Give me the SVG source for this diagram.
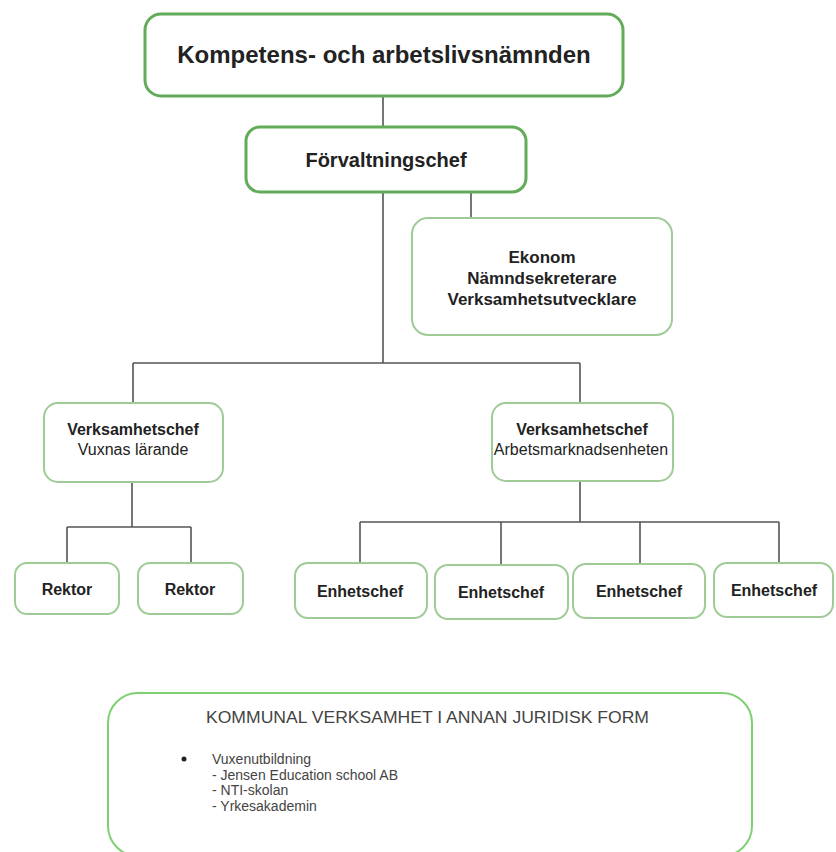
<svg xmlns="http://www.w3.org/2000/svg" width="836" height="852" viewBox="0 0 836 852">
<style>
.main{fill:#fff;stroke:#62ab58;stroke-width:3}
.box{fill:#fff;stroke:#9fcb96;stroke-width:2}
.ext{fill:#fff;stroke:#7fd072;stroke-width:2}
.t{font-family:"Liberation Sans",Arial,sans-serif;fill:#222;text-anchor:middle}
.b{font-weight:bold}
.g{font-family:"Liberation Sans",Arial,sans-serif;fill:#444}
.l{font-size:14px}
.c{fill:none;stroke:#555;stroke-width:1.6}
</style>
<rect width="836" height="852" fill="#fff"/>
<g id="connectors">
<path class="c" d="M383 96V127M383 192V363M471 192V218M133 363H580M133 363V403M580 363V403"/>
<path class="c" d="M132 482V527M67 527H191M67 527V563M191 527V563"/>
<path class="c" d="M580 481V522M360 522H779M360 522V563M501 522V565M640 522V564M779 522V563"/>
</g>
<g id="namnd"><rect class="main" x="145" y="14" width="478" height="82" rx="16"/><text class="t b" x="384" y="63" font-size="24">Kompetens- och arbetslivsnämnden</text></g>
<g id="forvaltningschef"><rect class="main" x="246" y="127" width="280" height="65" rx="14"/><text class="t b" x="386" y="167" font-size="20">Förvaltningschef</text></g>
<g id="stab"><rect class="box" x="412" y="218" width="260" height="117" rx="16"/><text class="t b" x="542" y="263" font-size="17">Ekonom</text><text class="t b" x="542" y="284" font-size="17">Nämndsekreterare</text><text class="t b" x="542" y="305" font-size="17">Verksamhetsutvecklare</text></g>
<g id="vc-vuxnas"><rect class="box" x="44" y="403" width="179" height="79" rx="14"/><text class="t b" x="133" y="435" font-size="16">Verksamhetschef</text><text class="t" x="133" y="455" font-size="16">Vuxnas lärande</text></g>
<g id="vc-arbetsmarknad"><rect class="box" x="492" y="403" width="181" height="78" rx="14"/><text class="t b" x="582" y="435" font-size="16">Verksamhetschef</text><text class="t" x="581" y="455" font-size="16">Arbetsmarknadsenheten</text></g>
<g id="rektor1"><rect class="box" x="15" y="563" width="104" height="51" rx="12"/><text class="t b" x="67" y="595" font-size="16">Rektor</text></g>
<g id="rektor2"><rect class="box" x="138" y="563" width="105" height="51" rx="12"/><text class="t b" x="190" y="595" font-size="16">Rektor</text></g>
<g id="enhetschef1"><rect class="box" x="295" y="563" width="132" height="55" rx="13"/><text class="t b" x="360" y="597" font-size="16">Enhetschef</text></g>
<g id="enhetschef2"><rect class="box" x="435" y="565" width="133" height="54" rx="13"/><text class="t b" x="501" y="598" font-size="16">Enhetschef</text></g>
<g id="enhetschef3"><rect class="box" x="573" y="564" width="132" height="54" rx="13"/><text class="t b" x="639" y="597" font-size="16">Enhetschef</text></g>
<g id="enhetschef4"><rect class="box" x="714" y="563" width="119" height="54" rx="13"/><text class="t b" x="774" y="596" font-size="16">Enhetschef</text></g>
<g id="annan-form"><rect class="ext" x="108" y="693" width="644" height="163" rx="30"/>
<text class="g" x="206" y="723" font-size="17" textLength="443" lengthAdjust="spacingAndGlyphs">KOMMUNAL VERKSAMHET I ANNAN JURIDISK FORM</text>
<circle cx="184" cy="759" r="2.5" fill="#222"/>
<text class="g l" x="212" y="764">Vuxenutbildning</text>
<text class="g l" x="212" y="779.7">- Jensen Education school AB</text>
<text class="g l" x="212" y="795.4">- NTI-skolan</text>
<text class="g l" x="212" y="811.1">- Yrkesakademin</text>
</g>
</svg>
